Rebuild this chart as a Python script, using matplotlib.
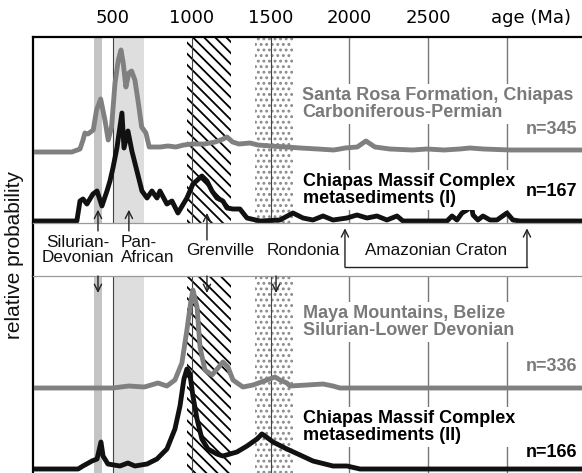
import matplotlib
matplotlib.use("Agg")
import matplotlib.pyplot as plt

# detrital zircon age spectra, ages in Ma, relative probability in arbitrary units
santa_rosa_age = [0, 240, 292, 311, 323, 342, 376, 397, 423, 450, 471, 492, 514, 535, 552, 566, 583,
                  602, 619, 640, 662, 683, 710, 731, 800, 850, 900, 950, 1000, 1080, 1150, 1200, 1224,
                  1260, 1300, 1370, 1420, 1500, 1600, 1690, 1800, 1900, 1940, 1972, 2050, 2105, 2162,
                  2257, 2400, 2492, 2600, 2700, 2765, 2850, 3020, 3200, 3475]
santa_rosa_p = [0, 0, 3, 12, 19, 18, 22, 42, 53, 32, 12, 25, 69, 92, 102, 89, 65,
                79, 81, 72, 49, 25, 19, 5, 5, 6, 5, 7, 8, 8, 10, 13, 15,
                10, 8, 9, 7, 6, 5, 4, 3, 2, 3, 4, 5, 11, 5,
                3, 2, 3, 2, 3, 4, 3, 2, 2, 2]

chiapas1_age = [0, 272, 292, 311, 336, 374, 400, 431, 463, 482, 501, 526, 558, 571, 596, 621, 653,
                685, 717, 748, 780, 799, 843, 875, 913, 970, 1008, 1065, 1097, 1129, 1160, 1198, 1224,
                1262, 1306, 1351, 1433, 1560, 1642, 1706, 1769, 1833, 1896, 1985, 2048, 2112, 2175,
                2238, 2302, 2340, 2619, 2651, 2682, 2714, 2746, 2771, 2784, 2815, 2847, 2892, 2936,
                2999, 3037, 3082, 3475]
chiapas1_p = [0, 0, 20, 22, 17, 27, 30, 15, 30, 40, 53, 73, 108, 73, 90, 70, 50,
              30, 23, 30, 23, 30, 17, 20, 8, 23, 37, 45, 40, 30, 23, 20, 13,
              12, 12, 3, 0, 1, 8, 3, 1, 5, 1, 3, 6, 3, 5,
              1, 5, 0, 0, 5, 1, 8, 11, 17, 6, 1, 5, 1, 1,
              8, 1, 0, 0]

maya_age = [0, 501, 600, 700, 786, 843, 894, 938, 970, 996, 1008, 1034, 1053, 1084, 1129, 1167,
            1198, 1230, 1262, 1325, 1389, 1477, 1528, 1560, 1604, 1623, 1731, 1833, 1896, 1940, 3475]
maya_p = [0, 0, 2, 1, 5, 2, 8, 25, 58, 88, 98, 81, 41, 18, 13, 20,
          26, 21, 8, 1, 3, 8, 11, 8, 5, 2, 3, 4, 2, 0, 0]

chiapas2_age = [0, 280, 311, 368, 400, 425, 438, 469, 545, 596, 640, 717, 780, 843, 894, 926, 951,
                970, 989, 1008, 1034, 1065, 1103, 1160, 1198, 1243, 1287, 1351, 1414, 1446, 1465,
                1516, 1604, 1687, 1769, 1896, 1985, 2067, 3475]
chiapas2_p = [0, 0, 3, 8, 10, 27, 13, 5, 3, 6, 3, 5, 10, 20, 40, 63, 90,
              100, 95, 73, 50, 30, 20, 15, 13, 15, 17, 23, 30, 35, 33,
              27, 20, 14, 8, 3, 3, 0, 0]

# source provinces (Ma)
silurian_band = (380, 431)
panafrican_band = (507, 697)
grenville_band = (970, 1249)
rondonia_band = (1401, 1642)
grid_dark = [500, 1000, 1500]
grid_light = [2000, 2500, 3000]
tick_pos = [500, 1000, 1500, 2000, 2500, 3150]
tick_lab = ["500", "1000", "1500", "2000", "2500", "age (Ma)"]

W, H = 582, 473
fig = plt.figure(figsize=(W / 100, H / 100), dpi=100)
plt.rcParams['hatch.linewidth'] = 1.3


def px_axes(top, bottom):
    return fig.add_axes([33 / W, 1 - bottom / H, 1 - 33 / W, (bottom - top) / H])


ax_top = px_axes(37, 223)
ax_bot = px_axes(276, 473)
ax_mid = px_axes(223, 276)

GRAY = '#808080'
TGRAY = '#7a7a7a'
box = dict(facecolor='white', edgecolor='none', pad=2)
bold = dict(fontsize=13, fontweight='bold', family='Liberation Sans', zorder=4)


def panel(ax, height, curves):
    ax.set_xlim(-6, 3475)
    ax.set_ylim(0, height)
    ax.axvspan(*silurian_band, facecolor='#c4c4c4', lw=0, zorder=1)
    ax.axvspan(*panafrican_band, facecolor='#dedede', lw=0, zorder=1)
    ax.axvspan(*grenville_band, facecolor='white', edgecolor='black', hatch='\\\\\\', lw=0, zorder=1)
    ax.axvspan(*rondonia_band, facecolor='white', edgecolor='#8a8a8a', hatch='...', lw=0, zorder=1)
    for x in grid_dark:
        ax.axvline(x, color='#444444', lw=0.8, zorder=1.5)
    for x in grid_light:
        ax.axvline(x, color='#777777', lw=1.0, zorder=1.5)
    for age, p, base, col in curves:
        ax.plot(age, [base + v for v in p], color=col, lw=3.5, zorder=3,
                solid_joinstyle='round', solid_capstyle='butt')
    ax.set_yticks([])
    for s in ['right', 'bottom', 'top']:
        ax.spines[s].set_visible(False)
    ax.spines['left'].set_linewidth(1.6)


panel(ax_top, 186, [(santa_rosa_age, santa_rosa_p, 71, GRAY),
                    (chiapas1_age, chiapas1_p, 2, '#111111')])
panel(ax_bot, 197, [(maya_age, maya_p, 85, GRAY),
                    (chiapas2_age, chiapas2_p, 4, '#111111')])

ax_top.spines['top'].set_visible(True)
ax_top.spines['top'].set_linewidth(1.6)
ax_top.xaxis.tick_top()
ax_top.set_xticks(tick_pos, tick_lab)
ax_top.tick_params(axis='x', length=0, pad=7, labelsize=13)
ax_bot.set_xticks([])

# sample labels
ax_top.text(1699, 119, "Santa Rosa Formation, Chiapas\nCarboniferous-Permian", color=TGRAY,
            va='center', ha='left', linespacing=1.05, bbox=box, **bold)
ax_top.text(3443, 93, "n=345", color=TGRAY, va='center', ha='right', bbox=box, **bold)
ax_top.text(1706, 33, "Chiapas Massif Complex\nmetasediments (I)", color='black',
            va='center', ha='left', linespacing=1.05, bbox=box, **bold)
ax_top.text(3443, 32, "n=167", color='black', va='center', ha='right', bbox=box, **bold)

ax_bot.text(1706, 151, "Maya Mountains, Belize\nSilurian-Lower Devonian", color=TGRAY,
            va='center', ha='left', linespacing=1.05, bbox=box, **bold)
ax_bot.text(3443, 107, "n=336", color=TGRAY, va='center', ha='right', bbox=box, **bold)
ax_bot.text(1706, 46, "Chiapas Massif Complex\nmetasediments (II)", color='black',
            va='center', ha='left', linespacing=1.05, bbox=box, **bold)
ax_bot.text(3443, 21, "n=166", color='black', va='center', ha='right', bbox=box, **bold)

# middle band with province names
ax_mid.set_xlim(-6, 3475)
ax_mid.set_ylim(0, 1)
ax_mid.set_xticks([])
ax_mid.set_yticks([])
ax_mid.spines['right'].set_visible(False)
for s in ['top', 'bottom']:
    ax_mid.spines[s].set_color('#999999')
    ax_mid.spines[s].set_linewidth(0.9)
ax_mid.spines['left'].set_linewidth(1.6)

narrow = dict(fontsize=12.3, family='Liberation Sans', color='#111111')
ax_mid.text(279, 0.49, "Silurian-\nDevonian", ha='center', va='center', linespacing=1.0, **narrow)
ax_mid.text(549, 0.49, "Pan-\nAfrican", ha='left', va='center', linespacing=1.0,
            multialignment='left', **narrow)
ax_mid.text(1179, 0.49, "Grenville", ha='center', va='center', **narrow)
ax_mid.text(1706, 0.49, "Rondonia", ha='center', va='center', **narrow)
ax_mid.text(2549, 0.49, "Amazonian Craton", ha='center', va='center', **narrow)

trans = ax_mid.get_xaxis_transform()
arrow = dict(arrowstyle='->', lw=1.0, color='#222222', shrinkA=0, shrinkB=0, mutation_scale=13)


def arr(x, y0, y1):
    ax_mid.annotate('', xy=(x, y1), xytext=(x, y0), xycoords=trans, textcoords=trans,
                    arrowprops=arrow, annotation_clip=False)


arr(406, 0.85, 1.25)
arr(602, 0.85, 1.25)
arr(1097, 0.68, 1.19)
arr(1972, 0.17, 0.90)
arr(3126, 0.17, 0.90)
ax_mid.plot([1972, 3126], [0.17, 0.17], color='#222222', lw=1.0, transform=trans, clip_on=False)
for x in [406, 1097, 1535]:
    arr(x, 0.0, -0.32)

fig.text(15 / W, 1 - 255 / H, "relative probability", rotation=90, ha='center', va='center',
         fontsize=15, family='Liberation Sans', color='#111111')

fig.savefig("out.png", dpi=100)
